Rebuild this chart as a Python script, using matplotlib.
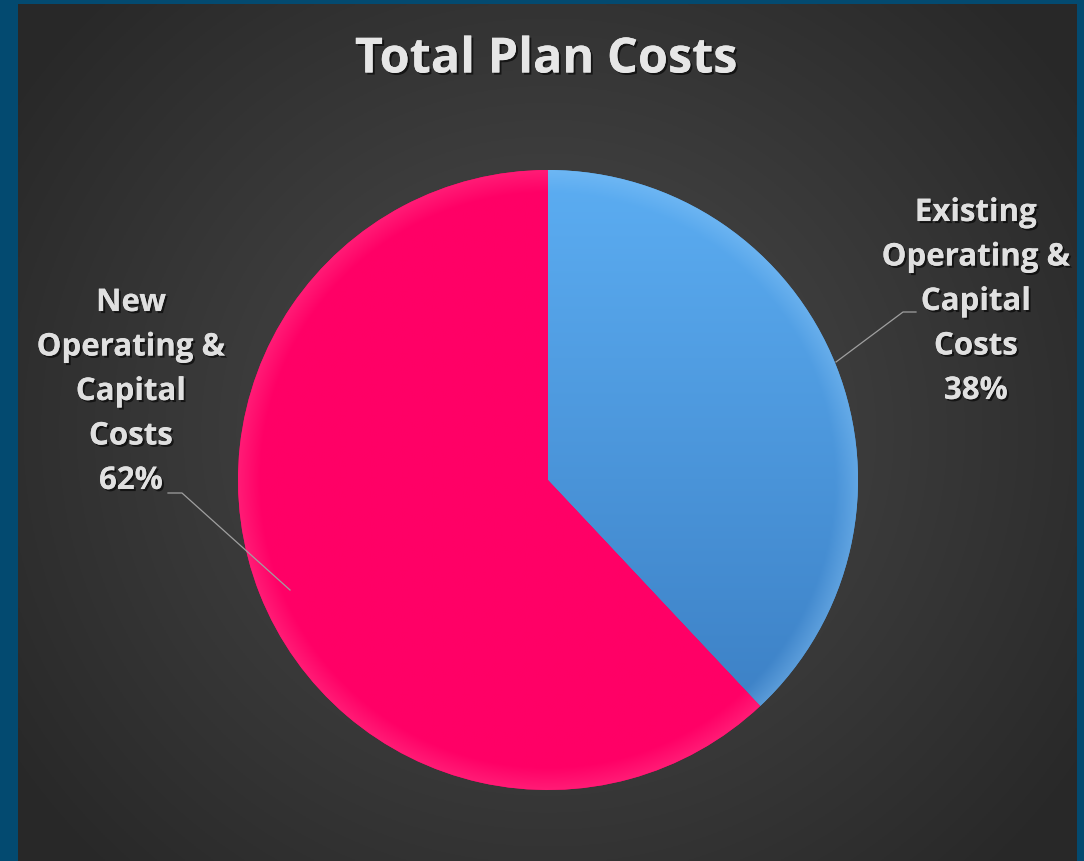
import numpy as np
import matplotlib
matplotlib.use("Agg")
import matplotlib.pyplot as plt
import matplotlib.patheffects as pe

# dati del grafico
title = "Total Plan Costs"
categories = ["Existing\nOperating &\nCapital\nCosts", "New\nOperating &\nCapital\nCosts"]
shares = [38, 62]

W, H = 1084, 861
fig = plt.figure(figsize=(W / 100, H / 100), dpi=100)
fig.patch.set_facecolor("#034a70")

# sfondo grigio con gradiente radiale
bg = fig.add_axes([18 / W, 0, (1077 - 18) / W, (861 - 4) / H])
yy, xx = np.mgrid[-1:1:400j, -1:1:500j]
r = np.sqrt(xx ** 2 + (yy * 0.85) ** 2)
shade = 0.30 - 0.14 * np.clip(r, 0, 1.2) / 1.2
bg.imshow(np.dstack([shade] * 3), aspect="auto", extent=[0, 1, 0, 1])
bg.axis("off")

ax = fig.add_axes([0, 0, 1, 1])
ax.set_xlim(0, W)
ax.set_ylim(0, H)
ax.axis("off")

cx, cy, rad = 548, H - 480, 310
wedges, _ = ax.pie(shares, startangle=90, counterclock=False, center=(cx, cy),
                   radius=rad, colors=["#4f9fe6", "#ff0066"],
                   wedgeprops=dict(linewidth=0))
ax.set_xlim(0, W)
ax.set_ylim(0, H)
ax.set_aspect("equal")

# gradiente sulle fette
gy, gx = np.mgrid[1:0:300j, 0:1:300j]
ext = [cx - rad, cx + rad, cy - rad, cy + rad]
dist = np.sqrt((gx - 0.5) ** 2 + (gy - 0.5) ** 2) * 2
rim = np.clip((dist - 0.93) / 0.07, 0, 1)[..., None]

blue_top = np.array([0.36, 0.68, 0.95])
blue_bot = np.array([0.22, 0.48, 0.75])
blue = blue_bot + (blue_top - blue_bot) * gy[..., None]
blue = blue * (1 - 0.35 * rim) + 0.35 * rim * np.array([0.55, 0.78, 0.97])
im1 = ax.imshow(np.clip(blue, 0, 1), extent=ext, zorder=2, interpolation="bilinear")
im1.set_clip_path(wedges[0])

pink = np.array([1.0, 0.0, 0.40]) * np.ones_like(gy)[..., None]
pink = pink * (1 - 0.3 * rim) + 0.3 * rim * np.array([1.0, 0.35, 0.6])
im2 = ax.imshow(np.clip(pink, 0, 1), extent=ext, zorder=2, interpolation="bilinear")
im2.set_clip_path(wedges[1])

shadow = [pe.withSimplePatchShadow(offset=(1.5, -1.5), shadow_rgbFace="black", alpha=0.6), pe.Normal()]
font = "Open Sans"

ax.text(546, H - 60, title, ha="center", va="center", fontsize=35, fontweight="bold",
        color="#e6e6e6", family=font, path_effects=shadow)

# etichette con percentuale
label_pos = [(976, H - 302), (131, H - 392)]
for lab, val, (lx, ly) in zip(categories, shares, label_pos):
    ax.text(lx, ly, f"{lab}\n{val}%", ha="center", va="center", fontsize=22.5,
            fontweight="bold", color="#e0e0e0", family=font, linespacing=1.63,
            path_effects=shadow)

# linee guida
ax.plot([836, 903, 916], [H - 362, H - 312, H - 312], color="#a0a0a0", lw=0.9, zorder=3)
ax.plot([290, 182, 168], [H - 590, H - 493, H - 493], color="#a0a0a0", lw=0.9, zorder=3)

fig.savefig("out.png", dpi=100, facecolor=fig.get_facecolor())
